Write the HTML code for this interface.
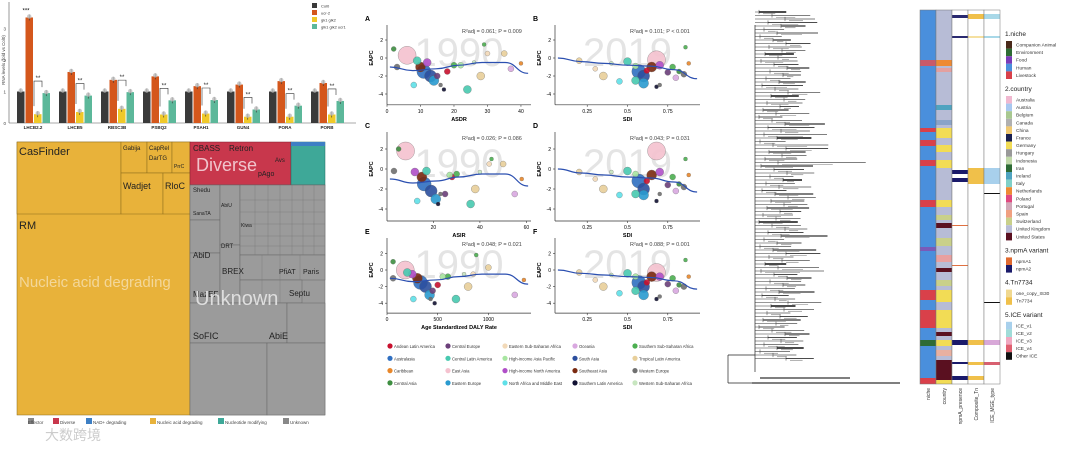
<!DOCTYPE html>
<html><head><meta charset="utf-8">
<style>
body{margin:0;background:#fff;width:1080px;height:450px;overflow:hidden;font-family:"Liberation Sans","Noto Sans CJK SC",sans-serif}
svg text{font-family:"Liberation Sans","Noto Sans CJK SC",sans-serif}
</style></head>
<body>
<svg id="s" width="1080" height="450" viewBox="0 0 1080 450">
<g stroke="#8a6a1a" stroke-width="0.5">
 <rect x="17" y="142" width="173" height="273" fill="#e8b23a"/>
 <rect x="17" y="142" width="104" height="72" fill="#e8b23a"/>
 <rect x="121" y="142" width="26" height="31" fill="#e8b23a"/>
 <rect x="147" y="142" width="25" height="31" fill="#e8b23a"/>
 <rect x="172" y="142" width="18" height="31" fill="#e8b23a"/>
 <rect x="121" y="173" width="42" height="41" fill="#e8b23a"/>
 <rect x="163" y="173" width="27" height="41" fill="#e8b23a"/>
 <rect x="190" y="142" width="101" height="43" fill="#c8374c" stroke="#7a1a2a"/>
 <rect x="291" y="142" width="34" height="43" fill="#3ea898" stroke="#1e6a60"/>
 <rect x="291" y="142" width="34" height="4" fill="#3d7fc4" stroke="none"/>
 <rect x="190" y="185" width="135" height="230" fill="#9b9b9b" stroke="#666"/>
 <rect x="190" y="185" width="30" height="35" fill="#9b9b9b" stroke="#666"/>
 <rect x="190" y="220" width="30" height="33" fill="#9b9b9b" stroke="#666"/>
 <rect x="190" y="253" width="30" height="50" fill="#9b9b9b" stroke="#666"/>
 <rect x="220" y="185" width="20" height="60" fill="#9b9b9b" stroke="#666"/>
 <rect x="220" y="245" width="20" height="58" fill="#9b9b9b" stroke="#666"/>
 <rect x="240" y="185" width="85" height="70" fill="#9b9b9b" stroke="#666"/>
 <rect x="240" y="255" width="85" height="25" fill="#9b9b9b" stroke="#666"/>
 <rect x="240" y="280" width="62" height="23" fill="#9b9b9b" stroke="#666"/>
 <rect x="190" y="303" width="97" height="40" fill="#9b9b9b" stroke="#666"/>
 <rect x="287" y="303" width="38" height="40" fill="#9b9b9b" stroke="#666"/>
 <rect x="190" y="343" width="77" height="72" fill="#9b9b9b" stroke="#666"/>
 <rect x="267" y="343" width="58" height="72" fill="#9b9b9b" stroke="#666"/>
 <g stroke="#777" fill="none" stroke-width="0.4">
  <path d="M255 185V255M268 185V255M280 185V255M292 185V255M303 185V255M314 185V255M240 200H325M240 212H325M240 224H325M240 236H325M240 246H325M262 255V280M280 255V280M300 255V280M262 280V303M280 280V303"/>
 </g>
</g>
<g fill="#222">
 <text x="19" y="155" font-size="11">CasFinder</text>
 <text x="19" y="229" font-size="11">RM</text>
 <text x="123" y="150" font-size="6">Gabija</text>
 <text x="149" y="150" font-size="6">CapRel</text>
 <text x="149" y="160" font-size="6">DarTG</text>
 <text x="174" y="168" font-size="5">PrrC</text>
 <text x="123" y="189" font-size="9">Wadjet</text>
 <text x="165" y="189" font-size="9">RloC</text>
 <text x="193" y="151" font-size="8">CBASS</text>
 <text x="229" y="151" font-size="8">Retron</text>
 <text x="275" y="162" font-size="6">Avs</text>
 <text x="258" y="176" font-size="7">pAgo</text>
 <text x="193" y="192" font-size="6">Shedu</text>
 <text x="193" y="215" font-size="5">SanaTA</text>
 <text x="221" y="207" font-size="5">AbiU</text>
 <text x="241" y="227" font-size="5">Kiwa</text>
 <text x="193" y="258" font-size="8">AbiD</text>
 <text x="221" y="248" font-size="6">DRT</text>
 <text x="222" y="274" font-size="8">BREX</text>
 <text x="279" y="274" font-size="7">PfiAT</text>
 <text x="303" y="274" font-size="7">Paris</text>
 <text x="193" y="297" font-size="8">MazEF</text>
 <text x="289" y="296" font-size="8">Septu</text>
 <text x="193" y="339" font-size="9">SoFIC</text>
 <text x="269" y="339" font-size="9">AbiE</text>
 <text x="19" y="287" font-size="15" fill="#f3d79a">Nucleic acid degrading</text>
 <text x="196" y="171" font-size="18" fill="#f0c4cc">Diverse</text>
 <text x="195" y="305" font-size="20" fill="#dedede">Unknown</text>
</g>
<g font-size="4.5" fill="#444">
 <rect x="28" y="418" width="6" height="6" fill="#888"/><text x="28" y="424">Effector</text>
 <rect x="53" y="418" width="6" height="6" fill="#c8374c"/><text x="60" y="424">Diverse</text>
 <rect x="86" y="418" width="6" height="6" fill="#3d7fc4"/><text x="93" y="424">NAD+ degrading</text>
 <rect x="150" y="418" width="6" height="6" fill="#e8b23a"/><text x="157" y="424">Nucleic acid degrading</text>
 <rect x="218" y="418" width="6" height="6" fill="#3ea898"/><text x="225" y="424">Nucleotide modifying</text>
 <rect x="283" y="418" width="6" height="6" fill="#888"/><text x="290" y="424">Unknown</text>
 <text x="45" y="440" font-size="14" fill="#ccc">大数跨境</text>
</g>
</svg>
<script>
const NS='http://www.w3.org/2000/svg', S=document.getElementById('s');
function el(t,a,p){const e=document.createElementNS(NS,t);for(const k in a)e.setAttribute(k,a[k]);(p||S).appendChild(e);return e;}

/* ===== BAR CHART ===== */
const genes=['LHCB2.2','LHCB5','RBSC3B','PSBQ2','PSAH1','GUN4','PORA','PORB'];
const col0=[1,1,1,1,1,1,1,1];
const ucr2=[3.35,1.62,1.37,1.48,1.17,1.22,1.33,1.27];
const gk=[0.28,0.35,0.45,0.27,0.3,0.2,0.2,0.27];
const gkucr=[0.95,0.87,0.98,0.72,0.73,0.43,0.55,0.7];
const barTicks=[0,1,2,3];
const barSeries=[col0,ucr2,gk,gkucr], barNames=['Col0','ucr-2','gk1 glk2','glk1 glk2 ucr1'];
const barCols=['#3a3a3a','#d4571c','#f0c929','#5cb89a'];
const by=v=>123-v*31.5, bx=i=>33+i*42;
const bg=el('g',{});


el('line',{x1:9,y1:2,x2:9,y2:123,stroke:'#555','stroke-width':0.6},bg);
el('line',{x1:9,y1:123,x2:356,y2:123,stroke:'#555','stroke-width':0.6},bg);
barTicks.forEach(t=>{const tx=el('text',{x:6,y:by(t)+2,'font-size':4.5,'text-anchor':'end',fill:'#444'},bg);tx.textContent=t;});
const yt=el('text',{x:5,y:60,'font-size':4.5,transform:'rotate(-90 5 60)','text-anchor':'middle',fill:'#444'},bg);yt.textContent='RNA levels (fold vs Col0)';
genes.forEach((g,i)=>{
 barSeries.forEach((s,k)=>{
  const x=bx(i)-16+k*8.5;
  const r=el('rect',{x:x,y:by(s[i]),width:7.5,height:123-by(s[i]),fill:barCols[k]},bg);
  
  
  el('line',{x1:x+3.75,y1:by(s[i])-3,x2:x+3.75,y2:by(s[i])+3,stroke:'#333','stroke-width':0.6},bg);
  el('circle',{cx:x+3.75,cy:by(s[i])-1,r:2.2,fill:'#bbb',opacity:0.8},bg);
 });
 const t=el('text',{x:bx(i),y:129,'font-size':4.5,'text-anchor':'middle','font-weight':'bold',fill:'#222'},bg);t.textContent=g;
 el('path',{d:`M${bx(i)+1} ${by(gk[i])-8}V${by(Math.max(gk[i],gkucr[i]))-12}H${bx(i)+9}V${by(gkucr[i])-6}`,stroke:'#333',fill:'none','stroke-width':0.6},bg);
 const st=el('text',{x:bx(i)+5,y:by(Math.max(gk[i],gkucr[i]))-13,'font-size':6,'text-anchor':'middle',fill:'#222'},bg);st.textContent='**';
});
const s1=el('text',{x:bx(0)-7,y:by(ucr2[0])-5,'font-size':6,'text-anchor':'middle'},bg);s1.textContent='***';
barNames.forEach((n,k)=>{
 el('rect',{x:312,y:3+k*7,width:5,height:5,fill:barCols[k]},bg);
 const t=el('text',{x:321,y:7.5+k*7,'font-size':4,fill:'#333'},bg);t.textContent=n;
});

/* ===== SCATTER PANELS ===== */
const regionNames=['Andean Latin America','Central Europe','Eastern Sub-Saharan Africa','Oceania','Southern Sub-Saharan Africa','Australasia','Central Latin America','High-income Asia Pacific','South Asia','Tropical Latin America','Caribbean','East Asia','High-income North America','Southeast Asia','Western Europe','Central Asia','Eastern Europe','North Africa and Middle East','Southern Latin America','Western Sub-Saharan Africa'];
const regionCols=['#c8102e','#6b3f7a','#f2d9b8','#d9a8e0','#4caf50','#2f6fc1','#48c9b0','#a8e6a1','#2c4f9e','#e8cf9a','#e8872a','#f5c2cf','#b04fc8','#7a2a10','#707070','#3e8e41','#2a9bd0','#5fe0e8','#111133','#c8e6c0'];
const ptSize=[9,7,6,5,5,4,4,3,3,3,3,4,3,3,2.5,2.5,2,2,2,3,3,2,4,2];
const ptCol=[11,5,8,13,16,6,9,3,14,0,1,12,17,4,15,2,18,19,10,7,9,14,6,4];
const xA=[6,11,13,10,14,24,28,37,3,18,15,12,8,20,2,30,17,26,40,22,35,16,9,29];
const yA=[0.3,-1.5,-2,-1,-2.5,-3.5,-2,-1.2,-1,-1.5,-2,-0.5,-3,-0.8,1,0.5,-3.5,-0.5,-0.6,-0.8,0.5,-3,-0.3,1.5];
const xB=[0.68,0.57,0.6,0.65,0.6,0.55,0.35,0.8,0.85,0.62,0.75,0.7,0.45,0.78,0.82,0.3,0.68,0.4,0.88,0.55,0.2,0.7,0.5,0.86];
const yB=[-0.2,-1.5,-2,-1,-2.8,-2.5,-2,-2.2,-1.8,-1.4,-1.6,-0.8,-2.6,-1,-1.5,-1.2,-3.2,-0.6,-0.6,-0.9,-0.3,-3,-0.4,1.2];
const xC=[8,16,19,15,21,36,38,55,3,28,25,12,13,30,5,44,22,40,58,27,50,23,17,45];
const yC=[1.8,-1.5,-2.2,-0.8,-3,-3.5,-2,-2.5,-0.2,-0.8,-2.5,-0.3,-3.2,-0.5,2,0.5,-3.5,-0.3,-1,-0.6,0.5,-2.5,-0.2,1];
const xD=[0.68,0.57,0.6,0.65,0.6,0.55,0.35,0.8,0.85,0.62,0.75,0.7,0.45,0.78,0.82,0.3,0.68,0.4,0.88,0.55,0.2,0.7,0.5,0.86];
const yD=[1.8,-1.2,-2,-0.6,-2.6,-2.5,-2,-2.2,-1.8,-1.2,-1.6,-0.3,-2.6,-0.8,-1.5,-1,-3.2,-0.3,-0.6,-0.5,-0.3,-2.5,-0.2,1];
const xE=[180,330,380,300,420,680,800,1260,60,500,450,250,260,600,60,850,470,760,1350,550,1000,430,200,880];
const yE=[0,-1.5,-2,-1,-3,-3.5,-2,-3,-1,-1.8,-2.5,-0.5,-3.5,-0.8,1,-0.5,-4,-0.5,-1.2,-0.8,0.3,-3.5,-0.3,1.8];
const xF=[0.68,0.57,0.6,0.65,0.6,0.55,0.35,0.8,0.85,0.62,0.75,0.7,0.45,0.78,0.82,0.3,0.68,0.4,0.88,0.55,0.2,0.7,0.5,0.86];
const yF=[-0.3,-1.5,-2,-0.8,-3,-2.5,-2,-2.5,-2,-1.5,-1.7,-0.8,-2.8,-1,-1.8,-1.2,-3.5,-0.6,-0.8,-0.8,-0.3,-3.2,-0.4,1.2];
const fitA=[-1,-1.4,-1.2,-0.8,-0.5,-0.5,-1.7], fitB=[0,-0.4,-0.6,-0.8,-0.9,-1.3,-2.3];
const panels=[
 {n:'A',x0:387,x1:531,yz:58,ys:9,xmin:0,xmax:43,xs:xA,ysv:yA,ticks:[0,10,20,30,40],xl:'ASDR',yt:[2,0,-2,-4],stat:'= 0.061; P = 0.009',fit:fitA,top:25,wm:'1990'},
 {n:'B',x0:555,x1:700,yz:58,ys:9,xmin:0.05,xmax:0.95,xs:xB,ysv:yB,ticks:[0.25,0.5,0.75],xl:'SDI',yt:[2,0,-2,-4],stat:'= 0.101; P < 0.001',fit:fitB,top:25,wm:'2019'},
 {n:'C',x0:387,x1:531,yz:169,ys:10,xmin:0,xmax:62,xs:xC,ysv:yC,ticks:[20,40,60],xl:'ASIR',yt:[2,0,-2,-4],stat:'= 0.026; P = 0.086',fit:fitA,top:132,wm:'1990'},
 {n:'D',x0:555,x1:700,yz:169,ys:10,xmin:0.05,xmax:0.95,xs:xD,ysv:yD,ticks:[0.25,0.5,0.75],xl:'SDI',yt:[2,0,-2,-4],stat:'= 0.043; P = 0.031',fit:fitB,top:132,wm:'2019'},
 {n:'E',x0:387,x1:531,yz:270,ys:8.3,xmin:0,xmax:1420,xs:xE,ysv:yE,ticks:[0,500,1000],xl:'Age Standardized DALY Rate',yt:[2,0,-2,-4],stat:'= 0.048; P = 0.021',fit:fitA,top:238,wm:'1990'},
 {n:'F',x0:555,x1:700,yz:270,ys:8.3,xmin:0.05,xmax:0.95,xs:xF,ysv:yF,ticks:[0.25,0.5,0.75],xl:'SDI',yt:[2,0,-2,-4],stat:'= 0.088; P = 0.001',fit:fitB,top:238,wm:'2019'}];
panels.forEach(p=>{
 const g=el('g',{});
 
 
 const X=v=>p.x0+(v-p.xmin)/(p.xmax-p.xmin)*(p.x1-p.x0), Y=v=>p.yz-v*p.ys;
 const bottom=Y(-5.2);
 el('line',{x1:p.x0,y1:p.top,x2:p.x0,y2:bottom,stroke:'#333','stroke-width':0.7},g);
 el('line',{x1:p.x0,y1:bottom,x2:p.x1,y2:bottom,stroke:'#333','stroke-width':0.7},g);
 const wm=el('text',{x:(p.x0+p.x1)/2,y:p.yz+8,'font-size':40,'text-anchor':'middle',fill:'#e4e4e4'},g);wm.textContent=p.wm;
 p.yt.forEach(t=>{el('line',{x1:p.x0-2,y1:Y(t),x2:p.x0,y2:Y(t),stroke:'#333','stroke-width':0.6},g);const tx=el('text',{x:p.x0-4,y:Y(t)+2,'font-size':5,'text-anchor':'end'},g);tx.textContent=t;});
 p.ticks.forEach(t=>{el('line',{x1:X(t),y1:bottom,x2:X(t),y2:bottom+2,stroke:'#333','stroke-width':0.6},g);const tx=el('text',{x:X(t),y:bottom+8,'font-size':5,'text-anchor':'middle'},g);tx.textContent=t;});
 const xl=el('text',{x:(p.x0+p.x1)/2,y:bottom+16,'font-size':5.5,'font-weight':'bold','text-anchor':'middle'},g);xl.textContent=p.xl;
 const yl=el('text',{x:p.x0-14,y:p.yz,'font-size':5.5,'font-weight':'bold','text-anchor':'middle',transform:`rotate(-90 ${p.x0-14} ${p.yz})`},g);yl.textContent='EAPC';
 const lb=el('text',{x:p.x0-22,y:p.top-4,'font-size':7,'font-weight':'bold'},g);lb.textContent=p.n;
 const st=el('text',{x:p.x0+75,y:p.top+8,'font-size':5.5,fill:'#444'},g);st.textContent='R²adj '+p.stat;
 p.xs.forEach((xv,i)=>{
  const c=el('circle',{cx:X(xv),cy:Y(p.ysv[i]),r:ptSize[i],fill:regionCols[ptCol[i]],stroke:'#555','stroke-width':0.3,opacity:0.9},g);
  
  
 });
 const pts=p.fit.map((v,i)=>[X(p.xmin+(p.xmax-p.xmin)*(0.02+0.96*i/(p.fit.length-1))),Y(v)]);
 let d='M'+pts[0].join(' ');
 for(let i=1;i<pts.length;i++){const a=pts[i-1],b=pts[i];const mx=(a[0]+b[0])/2;d+=` C${mx} ${a[1]} ${mx} ${b[1]} ${b[0]} ${b[1]}`;}
 el('path',{d:d,fill:'none',stroke:'#2b4fb0','stroke-width':1.2},g);
});
const lg=el('g',{});


const lcx=[390,448,505,575,635];
regionNames.forEach((n,i)=>{
 const row=Math.floor(i/5);
 el('circle',{cx:lcx[i%5],cy:346+row*12.3,r:2.6,fill:regionCols[i]},lg);
 const t=el('text',{x:lcx[i%5]+4,y:348+row*12.3,'font-size':4.2,fill:'#333'},lg);t.textContent=n;
});

/* ===== TREE ===== */
const tipLen=[35,55,40,75,30,22,60,25,18,30,45,28,38,20,52,30,26,42,18,30,34,60,28,44,36,24,50,20,32,46,28,40,58,70,38,100,48,32,86,62,52,30,44,145,80,40,35,28,20,38,44,30,55,36,46,28,62,24,40,30,56,38,26,50,70,22,30,42,64,48,30,36,24,60,100,28,30,42,26,38,50,34,22,46,30,40,28,36,54,24,32,44,30,38,26,48,34,40,28,36];
const tg=el('g',{});


const spineX=755, step=350/tipLen.length;
el('line',{x1:spineX,y1:25,x2:spineX,y2:372,stroke:'#222','stroke-width':0.7},tg);
el('path',{d:'M728 355V383M728 355H755M728 383H752',stroke:'#222',fill:'none','stroke-width':0.7},tg);
tipLen.forEach((L,i)=>{
 const y=12+i*step;
 const inner=spineX+4+((i*13)%30);
 el('line',{x1:spineX,y1:y,x2:inner,y2:y,stroke:'#333','stroke-width':0.5},tg);
 el('line',{x1:inner,y1:y-step*0.6,x2:inner,y2:y+step*0.6,stroke:'#333','stroke-width':0.5},tg);
 el('line',{x1:inner,y1:y,x2:Math.min(inner+8+L*0.55,912),y2:y,stroke:i%3?'#555':'#111','stroke-width':i%4?0.7:1.6},tg);
 el('line',{x1:inner+4,y1:y+step*0.5,x2:inner+4+L*0.35,y2:y+step*0.5,stroke:'#777','stroke-width':0.6},tg);
});
el('path',{d:'M752 383H900M760 378H850',stroke:'#333','stroke-width':1.2},tg);

/* ===== HEATMAP ===== */
const hmCols=['niche','country','npmA_presence','Composite_Tn','ICE_MGE_type'];
const nicheSeg=[[0,374,'#4a8fdc'],[50,56,'#c85a6a'],[118,122,'#d9404a'],[130,136,'#d9404a'],[150,156,'#d9404a'],[190,197,'#d9404a'],[237,241,'#7a5ab8'],[280,290,'#d9404a'],[300,318,'#d9404a'],[330,336,'#2e6b35'],[368,374,'#d9404a']];
const countrySeg=[[0,374,'#b7bcd6'],[50,56,'#ee8a33'],[58,62,'#e3a0a0'],[95,100,'#4fa3c0'],[110,115,'#8aa3c8'],[118,128,'#f2dc55'],[135,142,'#f2dc55'],[150,158,'#f2dc55'],[190,197,'#f2dc55'],[205,210,'#c9d08a'],[213,218,'#5a1020'],[228,236,'#c9d08a'],[245,252,'#e8a0a0'],[258,262,'#5a1020'],[270,276,'#c9d08a'],[280,292,'#f2dc55'],[300,318,'#f2dc55'],[322,326,'#5a1020'],[330,336,'#f2dc55'],[340,346,'#e8b0a0'],[350,370,'#5a1020'],[370,374,'#f2dc55']];
const npmaSeg=[[0,374,'#ffffff'],[5,8,'#2a2a70'],[26,28,'#2a2a70'],[160,164,'#1a1a6a'],[168,172,'#1a1a6a'],[330,335,'#1a1a6a'],[352,354,'#1a1a6a'],[366,370,'#1a1a6a'],[215,216,'#e07040'],[255,256,'#e07040']];
const tnSeg=[[0,374,'#ffffff'],[4,9,'#f0c04a'],[26,28,'#f5e0a0'],[158,174,'#f0c04a'],[330,335,'#f0c04a'],[352,355,'#f0c04a'],[366,370,'#f0c04a']];
const iceSeg=[[0,374,'#ffffff'],[4,9,'#a8d8e8'],[26,28,'#a8d8e8'],[158,174,'#a8d0ec'],[183,184,'#111'],[292,293,'#111'],[330,335,'#d8a8d8'],[352,355,'#d86070']];
const hg=el('g',{});


[nicheSeg,countrySeg,npmaSeg,tnSeg,iceSeg].forEach((segs,c)=>{
 segs.forEach(s=>{const r=el('rect',{x:920+c*16,y:10+s[0],width:16,height:s[1]-s[0],fill:s[2]},hg);
  
  });
 el('rect',{x:920+c*16,y:10,width:16,height:374,fill:'none',stroke:'#777','stroke-width':0.5},hg);
 const t=el('text',{x:930+c*16,y:388,'font-size':5,'text-anchor':'end',transform:`rotate(-90 ${930+c*16} 388)`,fill:'#333'},hg);t.textContent=hmCols[c];
});

/* ===== HEATMAP LEGEND ===== */
const legGroups=[
 ['1.niche',[['Companion Animal','#4a2a1a'],['Environment','#2e6b35'],['Food','#7a3ab8'],['Human','#4a8fdc'],['Livestock','#d9404a']]],
 ['2.country',[['Australia','#f0b8d0'],['Austria','#a8c8f0'],['Belgium','#a8c890'],['Canada','#b0b0b0'],['China','#f0c870'],['France','#1a2050'],['Germany','#f2dc55'],['Hungary','#999'],['Indonesia','#c0d8a8'],['Iran','#2e6b35'],['Ireland','#4fa3c0'],['Italy','#80d0c8'],['Netherlands','#ee8a33'],['Poland','#e04880'],['Portugal','#d0a8b8'],['Spain','#f0a080'],['Switzerland','#c9d08a'],['United Kingdom','#b7bcd6'],['United States','#5a1020']]],
 ['3.npmA variant',[['npmA1','#e06a30'],['npmA2','#1a1a6a']]],
 ['4.Tn7734',[['one_copy_IS30','#f0d890'],['Tn7734','#f0c04a']]],
 ['5.ICE variant',[['ICE_v1','#a8d0ec'],['ICE_v2','#a0dcd8'],['ICE_v3','#f0a8c0'],['ICE_v4','#e06070'],['Other ICE','#111']]]];
const leg=el('g',{});


let ly=36;
legGroups.forEach(gp=>{
 const h=el('text',{x:1005,y:ly,'font-size':6.5,fill:'#222'},leg);h.textContent=gp[0];ly+=5;
 gp[1].forEach(it=>{el('rect',{x:1006,y:ly,width:6,height:7.6,fill:it[1]},leg);const t=el('text',{x:1016,y:ly+5.5,'font-size':4.8,fill:'#333'},leg);t.textContent=it[0];ly+=7.6;});
 ly+=12;
});
</script>
</body></html>
